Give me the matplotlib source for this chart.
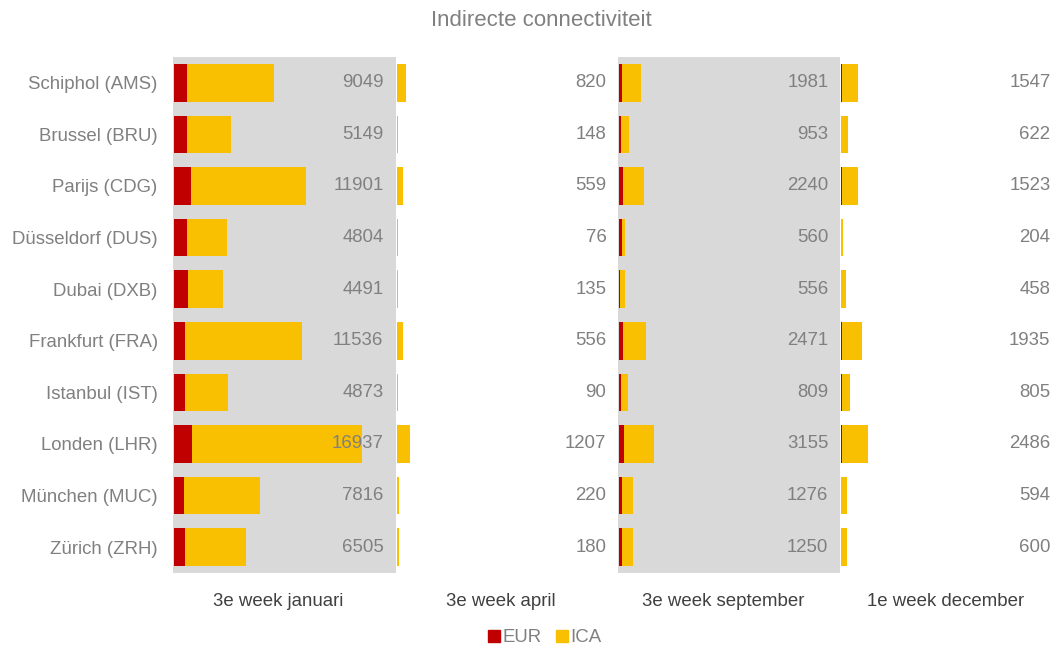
import matplotlib as mpl
mpl.use('Agg')
import matplotlib.pyplot as plt
from matplotlib.patches import Patch

plt.rcParams['font.family'] = ['Liberation Sans', 'DejaVu Sans']

airports = ["Schiphol (AMS)", "Brussel (BRU)", "Parijs (CDG)", "Düsseldorf (DUS)",
            "Dubai (DXB)", "Frankfurt (FRA)", "Istanbul (IST)", "Londen (LHR)",
            "München (MUC)", "Zürich (ZRH)"]
periods = ["3e week januari", "3e week april", "3e week september", "1e week december"]

eur_jan = [1200, 1200, 1590, 1170, 1290, 1050, 990, 1650, 960, 1050]
ica_jan = [7849, 3949, 10311, 3634, 3201, 10486, 3883, 15287, 6856, 5455]
eur_apr = [20, 20, 60, 10, 40, 30, 10, 50, 20, 40]
ica_apr = [800, 128, 499, 66, 95, 526, 80, 1157, 200, 140]
eur_sep = [300, 200, 420, 270, 150, 360, 240, 450, 270, 270]
ica_sep = [1681, 753, 1820, 290, 406, 2111, 569, 2705, 1006, 980]
eur_dec = [150, 40, 120, 30, 70, 130, 130, 150, 40, 40]
ica_dec = [1397, 582, 1403, 174, 388, 1805, 675, 2336, 554, 560]

eur_all = [eur_jan, eur_apr, eur_sep, eur_dec]
ica_all = [ica_jan, ica_apr, ica_sep, ica_dec]

c_eur = '#C00000'
c_ica = '#F8C000'
grey_txt = '#808080'

W, H = 1052, 648
fig = plt.figure(figsize=(W / 100, H / 100), dpi=100)

lefts = [173, 396, 618, 840]
pw = 222.5
top, bottom = 57, 573
ypos = list(range(len(airports)))

for i in range(4):
    ax = fig.add_axes([lefts[i] / W, 1 - bottom / H, pw / W, (bottom - top) / H])
    if i in (0, 2):
        ax.set_facecolor('#D9D9D9')
    ax.barh(ypos, eur_all[i], height=0.73, color=c_eur, linewidth=0)
    ax.barh(ypos, ica_all[i], left=eur_all[i], height=0.73, color=c_ica, linewidth=0)
    for y, e, a in zip(ypos, eur_all[i], ica_all[i]):
        ax.text(1 - 12 / pw, y, str(e + a), transform=ax.get_yaxis_transform(),
                ha='right', va='center', fontsize=13.4, color=grey_txt)
    ax.set_xlim(-60, 20000)
    ax.set_ylim(len(airports) - 0.5, -0.5)
    for s in ax.spines.values():
        s.set_visible(False)
    ax.set_xticks([])
    ax.set_yticks(ypos)
    if i == 0:
        ax.set_yticklabels(airports, fontsize=13.4, color=grey_txt)
        ax.tick_params(axis='y', length=0, pad=11)
    else:
        ax.set_yticklabels([])
        ax.tick_params(axis='y', length=0)
    fig.text((lefts[i] + pw / 2 - 6) / W, 1 - 601 / H, periods[i], ha='center', va='center',
             fontsize=13.4, color='#404040')

fig.text(541 / W, 1 - 20 / H, "Indirecte connectiviteit", ha='center', va='center',
         fontsize=16, color=grey_txt)

handles = [Patch(color=c_eur, label='EUR'), Patch(color=c_ica, label='ICA')]
leg = fig.legend(handles=handles, loc='center', bbox_to_anchor=(545 / W, 1 - 638 / H), ncol=2,
                 frameon=False, handlelength=0.6, handleheight=0.6, handletextpad=0.15,
                 columnspacing=0.8, fontsize=13.4, borderpad=0)
for t in leg.get_texts():
    t.set_color(grey_txt)

plt.savefig('out.png', dpi=100)
plt.close()
